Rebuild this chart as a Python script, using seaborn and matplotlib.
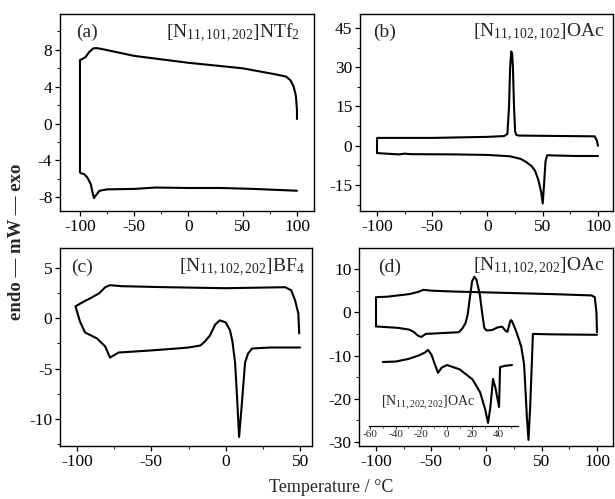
import matplotlib
matplotlib.use("Agg")
import matplotlib.pyplot as plt
from matplotlib.ticker import MultipleLocator
import seaborn as sns
import numpy as np

# ---------------- data ----------------
# (a) [N11,101,202]NTf2 : cooling trace (lower) -> vertical -> heating trace (upper)
a_T = [100, 80, 60, 30, 0, -30, -50, -75, -82, -84, -86, -87, -88, -90, -93, -96, -99, -100,
       -100, -100, -98, -95, -92, -88, -85, -80, -50, 0, 50, 80, 90, 94, 97, 99, 100, 100]
a_Q = [-7.3, -7.2, -7.1, -7.0, -7.0, -6.95, -7.1, -7.15, -7.3, -7.6, -7.9, -8.1, -7.7, -6.6, -5.9,
       -5.5, -5.4, -5.3, 0.0, 6.9, 7.0, 7.2, 7.7, 8.15, 8.2, 8.1, 7.35, 6.6, 6.0, 5.35, 5.1, 4.7,
       4.0, 3.0, 1.5, 0.5]

# (b) [N11,102,102]OAc
b_T = [100, 80, 60, 54, 52.5, 51, 50, 48.5, 46, 43, 40, 35, 30, 20, 0, -30, -70, -75, -80, -100,
       -100, -100, -50, -25, 0, 15, 18, 19.5, 20.5, 21.5, 22.3, 23, 24, 25, 26, 28, 50, 97, 99, 100]
b_Q = [-3.9, -3.9, -3.7, -3.6, -6.0, -16.0, -22.0, -17.5, -13.0, -9.5, -7.8, -6.2, -5.0, -4.0,
       -3.5, -3.3, -3.2, -3.0, -3.3, -2.8, 0.0, 3.0, 3.0, 3.2, 3.4, 3.7, 4.5, 15.0, 30.0, 36.0,
       35.0, 30.0, 15.0, 5.5, 4.2, 3.9, 3.8, 3.6, 2.0, 0.0]

# (c) [N11,102,202]BF4
c_T = [50, 30, 17.7, 15, 13, 10.9, 9.0, 7.6, 6.3, 4.5, 2.9, 0, -4, -7, -10.6, -14, -17, -25, -33,
       -51, -72, -77.8, -81, -86.5, -94.6, -98, -101,
       -95, -91, -85, -81, -77.8, -70, -40, 0, 40, 44, 46.6, 48.8, 49.4]
c_Q = [-2.9, -2.9, -3.0, -3.5, -4.4, -8.4, -11.8, -7.8, -4.4, -2.3, -1.2, -0.4, -0.2, -0.6, -1.7,
       -2.3, -2.7, -2.9, -3.0, -3.2, -3.4, -3.9, -2.8, -2.0, -1.4, -0.3, 1.2,
       1.7, 2.0, 2.5, 3.1, 3.3, 3.2, 3.1, 3.0, 3.1, 2.8, 1.8, 0.5, -1.5]

# (d) [N11,102,202]OAc
d_T = [100, 60, 42, 41, 39.5, 38, 36.5, 35.5, 34, 31.5, 29, 26, 23, 22, 21, 19, 17, 14, 10, 5, 0,
       -2, -4, -6, -9, -11, -13, -15, -17, -19, -22, -25, -40, -55, -59, -62, -66, -70, -80, -98,
       -100, -100, -90, -80, -70, -62, -57, -50, -30, 0, 30, 60, 95, 98, 99.5, 100]
d_Q = [-5.2, -5.1, -5.0, -12.0, -22.0, -29.5, -24.0, -19.0, -12.0, -8.0, -6.0, -3.8, -2.0, -1.8,
       -2.5, -4.5, -4.2, -3.3, -3.5, -4.1, -4.2, -3.6, 0.0, 4.0, 7.5, 8.2, 7.2, 3.5, -0.5, -2.5,
       -3.8, -4.6, -4.8, -5.0, -5.7, -5.4, -4.5, -4.0, -3.6, -3.3, -3.3, 3.5, 3.6, 3.9, 4.2, 4.7,
       5.2, 5.0, 4.8, 4.6, 4.4, 4.2, 3.9, 3.5, 0.0, -4.6]

# inset of (d): [N11,202,202]OAc (own temperature axis, same heat-flow scale)
i_T = [-50, -40, -30, -22, -17, -14.7, -12, -9, -6.9, -4, 0.2, 10, 20, 26, 30, 32.2, 34, 36.1,
       38, 40.8, 41.6, 45, 50.9]
i_Q = [-11.5, -11.4, -10.8, -10.0, -9.3, -8.7, -9.8, -12.3, -14.0, -12.8, -12.2, -13.2, -15.5,
       -18.5, -22.5, -25.6, -22.0, -15.4, -17.5, -21.9, -12.7, -12.4, -12.2]

panel_tags = ["(a)", "(b)", "(c)", "(d)"]
compounds = [r"[N$_{\mathrm{11,101,202}}$]NTf$_{\mathrm{2}}$",
             r"[N$_{\mathrm{11,102,102}}$]OAc",
             r"[N$_{\mathrm{11,102,202}}$]BF$_{\mathrm{4}}$",
             r"[N$_{\mathrm{11,102,202}}$]OAc"]
inset_label = r"[N$_{\mathrm{11,202,202}}$]OAc"

# ---------------- style ----------------
sns.set_style("ticks")
plt.rcParams["font.family"] = ["Liberation Serif", "DejaVu Serif"]
plt.rcParams["mathtext.fontset"] = "custom"
plt.rcParams["mathtext.rm"] = "Liberation Serif"
plt.rcParams["mathtext.it"] = "Liberation Serif:italic"
plt.rcParams["axes.unicode_minus"] = False
plt.rcParams["axes.edgecolor"] = "black"
plt.rcParams["axes.linewidth"] = 1.0

W, H = 615, 499
fig = plt.figure(figsize=(W / 100, H / 100), dpi=100)


def px_axes(left, right, top, bottom):
    return fig.add_axes([left / W, 1 - bottom / H, (right - left) / W, (bottom - top) / H])


axA = px_axes(60, 314, 14, 211)
axB = px_axes(360, 613, 14, 211)
axC = px_axes(60, 312, 248, 446)
axD = px_axes(359, 613, 248, 446)

specs = [
    (axA, a_T, a_Q, (-118.4, 115.7), (-9.5, 11.9), 4, 2, 50, 25),
    (axB, b_T, b_Q, (-115.4, 113.6), (-24.9, 50.3), 15, 7.5, 50, 25),
    (axC, c_T, c_Q, (-111.4, 58.0), (-12.7, 7.0), 5, 2.5, 50, 25),
    (axD, d_T, d_Q, (-115.4, 114.5), (-30.9, 14.86), 10, 5, 50, 25),
]

for i, (ax, T, Q, xl, yl, ymaj, ymin, xmaj, xmin) in enumerate(specs):
    sns.lineplot(x=T, y=Q, sort=False, estimator=None, color="black", lw=1.5, ax=ax)
    ax.set_xlim(*xl)
    ax.set_ylim(*yl)
    ax.yaxis.set_major_locator(MultipleLocator(ymaj))
    ax.yaxis.set_minor_locator(MultipleLocator(ymin))
    ax.xaxis.set_major_locator(MultipleLocator(xmaj))
    ax.xaxis.set_minor_locator(MultipleLocator(xmin))
    ax.tick_params(which="major", direction="out", length=3.5, width=0.9, labelsize=12.5,
                   colors="black", pad=2)
    ax.tick_params(which="minor", direction="out", length=2, width=0.8)
    ax.tick_params(top=False, right=False, which="both")
    for s in ax.spines.values():
        s.set_visible(True)
        s.set_color("black")
    ax.set_xlabel("")
    ax.set_ylabel("")

# panel tags & compound names
tag_pos = [(0.062, 0.905), (0.05, 0.905), (0.045, 0.9), (0.076, 0.9)]
cmp_pos = [(0.945, 0.905), (0.964, 0.905), (0.972, 0.9), (0.965, 0.905)]
for ax, tag, cmp_, tp, cp in zip([axA, axB, axC, axD], panel_tags, compounds, tag_pos, cmp_pos):
    ax.text(tp[0], tp[1], tag, transform=ax.transAxes, ha="left", va="center", fontsize=14)
    ax.text(cp[0], cp[1], cmp_, transform=ax.transAxes, ha="right", va="center", fontsize=14)

# inset axes inside (d)
axI = px_axes(368.7, 518, 248, 426)
axI.patch.set_alpha(0)
sns.lineplot(x=i_T, y=i_Q, sort=False, estimator=None, color="black", lw=1.5, ax=axI)
axI.set_xlim(-61, 55.6)
axI.set_ylim(-26.3, 14.86)
for side in ["top", "right", "left"]:
    axI.spines[side].set_visible(False)
axI.spines["bottom"].set_linewidth(0.9)
axI.set_yticks([])
axI.xaxis.set_major_locator(MultipleLocator(20))
axI.xaxis.set_minor_locator(MultipleLocator(10))
axI.tick_params(which="major", direction="out", length=2, width=0.7, labelsize=8, pad=1)
axI.tick_params(which="minor", direction="out", length=1.2, width=0.6)
axI.set_xlabel("")
axI.set_ylabel("")
axI.text(381 / W, 1 - 403 / H, inset_label, transform=fig.transFigure, ha="left", va="center",
         fontsize=10)

# shared labels
fig.text(331 / W, 1 - 487 / H, "Temperature / °C", ha="center", va="center", fontsize=13)
fig.text(17 / W, 1 - 242 / H, "endo — mW — exo", ha="center", va="center", rotation=90,
         fontsize=13.5, fontweight="bold")

fig.savefig("out.png", dpi=100)
